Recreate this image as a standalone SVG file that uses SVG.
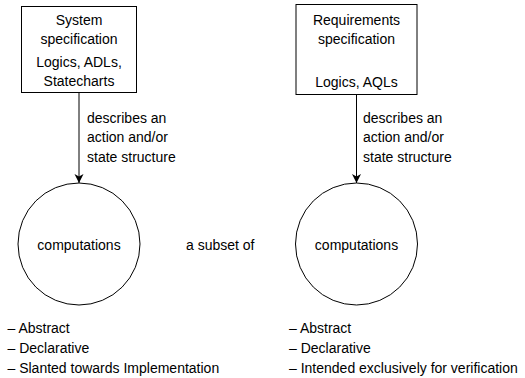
<svg xmlns="http://www.w3.org/2000/svg" width="525" height="378" viewBox="0 0 525 378">
<defs>
<marker id="ah" markerWidth="10" markerHeight="10" refX="9" refY="5" orient="auto" markerUnits="userSpaceOnUse">
<path d="M0,0.5 L9,5 L0,9.5 L2.5,5 Z" fill="#000"/>
</marker>
</defs>
<style>
text{font-family:"Liberation Sans",Arial,sans-serif;font-size:14px;fill:#000}
.c{text-anchor:middle}
.shape{fill:#fff;stroke:#000;stroke-width:1}
.edge{stroke:#000;stroke-width:1;fill:none}
</style>
<rect width="525" height="378" fill="#fff"/>
<g id="sys-spec">
<rect class="shape" x="21.5" y="6.5" width="115" height="86"/>
<text class="c" x="79" y="25">System</text>
<text class="c" x="79" y="44">specification</text>
<text class="c" x="79" y="67">Logics, ADLs,</text>
<text class="c" x="79" y="86">Statecharts</text>
</g>
<g id="req-spec">
<rect class="shape" x="296" y="4.5" width="121" height="90"/>
<text class="c" x="356.5" y="25">Requirements</text>
<text class="c" x="356.5" y="44">specification</text>
<text class="c" x="356.5" y="87">Logics, AQLs</text>
</g>
<g id="comp-left">
<circle class="shape" cx="79" cy="244" r="61"/>
<text class="c" x="79" y="250">computations</text>
</g>
<g id="comp-right">
<circle class="shape" cx="356.5" cy="244" r="61"/>
<text class="c" x="356.5" y="250">computations</text>
</g>
<g id="connectors">
<line class="edge" x1="79" y1="92.5" x2="79" y2="183" marker-end="url(#ah)"/>
<line class="edge" x1="356.5" y1="94.5" x2="356.5" y2="183" marker-end="url(#ah)"/>
<text x="87" y="123">describes an</text>
<text x="87" y="142">action and/or</text>
<text x="87" y="162">state structure</text>
<text x="363" y="123">describes an</text>
<text x="363" y="142">action and/or</text>
<text x="363" y="162">state structure</text>
<text x="186" y="250">a subset of</text>
</g>
<g id="left-list">
<text x="7.5" y="333">– Abstract</text>
<text x="7.5" y="353">– Declarative</text>
<text x="7.5" y="373">– Slanted towards Implementation</text>
</g>
<g id="right-list">
<text x="289" y="333">– Abstract</text>
<text x="289" y="353">– Declarative</text>
<text x="289" y="373">– Intended exclusively for verification</text>
</g>
</svg>
